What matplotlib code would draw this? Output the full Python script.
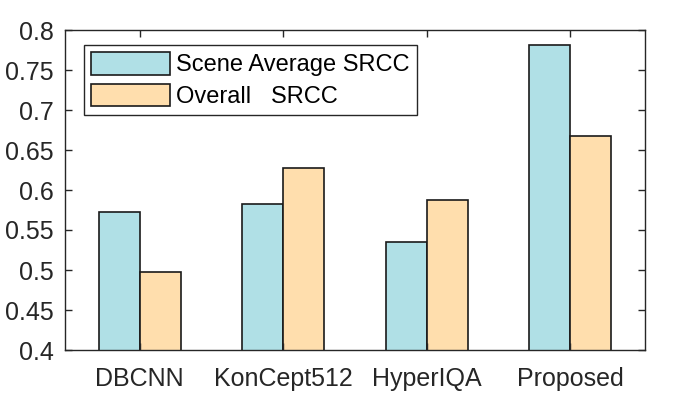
import matplotlib
matplotlib.use('Agg')
import matplotlib.pyplot as plt
from matplotlib.ticker import FormatStrFormatter
import numpy as np

methods = ['DBCNN', 'KonCept512', 'HyperIQA', 'Proposed']
scene_avg_srcc = [0.573, 0.582, 0.535, 0.781]
overall_srcc = [0.497, 0.628, 0.587, 0.667]
series_labels = ['Scene Average SRCC', 'Overall   SRCC']

plt.rcParams['font.family'] = ['Liberation Sans', 'DejaVu Sans']

fig = plt.figure(figsize=(6.85, 3.94), dpi=100)
ax = fig.add_axes([65 / 685, 44 / 394, 580 / 685, 320 / 394])

x = np.arange(1, len(methods) + 1)
w = 0.286
ax.bar(x - w / 2, scene_avg_srcc, w, color='#B0E0E6', edgecolor='#1a1a1a',
       linewidth=1.2, label=series_labels[0])
ax.bar(x + w / 2, overall_srcc, w, color='#FFDEAD', edgecolor='#1a1a1a',
       linewidth=1.2, label=series_labels[1])

ax.set_xlim(0.48, 4.52)
ax.set_ylim(0.4, 0.8)
ax.set_xticks(x)
ax.set_xticklabels(methods)
ax.set_yticks(np.arange(0.4, 0.801, 0.05))
ax.yaxis.set_major_formatter(FormatStrFormatter('%g'))

for s in ax.spines.values():
    s.set_color('#262626')
    s.set_linewidth(1.0)
ax.tick_params(axis='both', direction='in', length=5, width=1.0,
               color='#262626', labelsize=18, labelcolor='#262626',
               top=True, right=True)
ax.tick_params(axis='x', pad=12.5)
ax.tick_params(axis='y', pad=8)

leg = ax.legend(loc='upper left', bbox_to_anchor=((84 - 65) / 580, (350 - 45) / 320),
                borderaxespad=0, fontsize=17, fancybox=False, framealpha=1,
                edgecolor='#262626', handlelength=3.35, handleheight=1.1,
                handletextpad=0.25, labelspacing=0.3, borderpad=0.3)
leg.get_frame().set_linewidth(1.0)

fig.savefig('out.png', dpi=100)
